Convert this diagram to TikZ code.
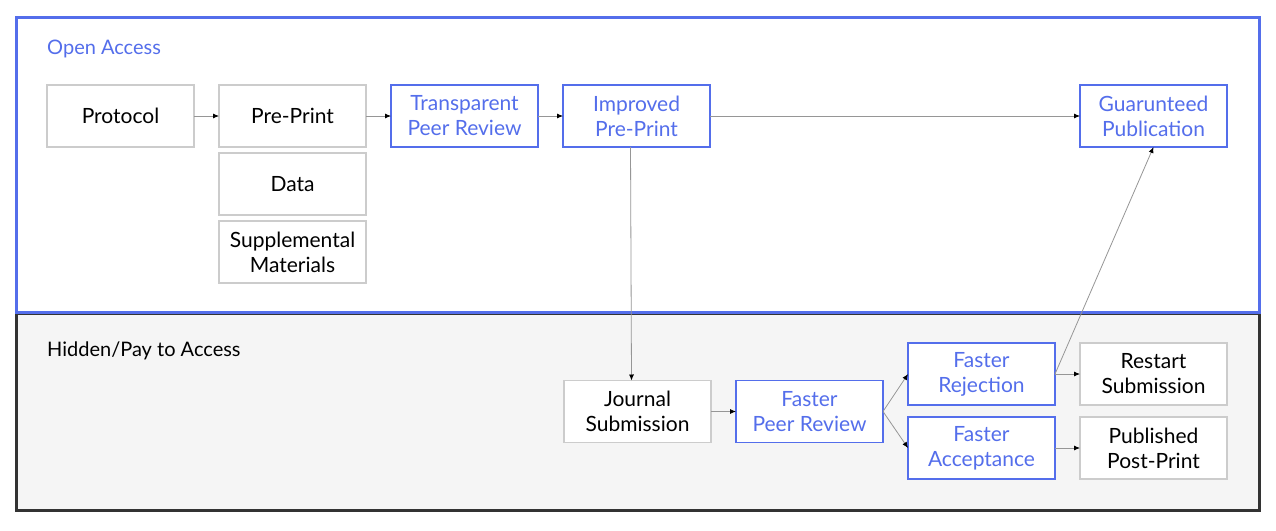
\documentclass[tikz,border=0pt]{standalone}
\usepackage{fontspec}
\setmainfont{Lato}
\usetikzlibrary{arrows.meta, positioning}
\definecolor{oablue}{RGB}{84,110,235}
\definecolor{boxgray}{RGB}{204,204,204}
\definecolor{hiddenfill}{RGB}{245,245,245}
\definecolor{hiddenline}{RGB}{51,51,51}
\definecolor{linkgray}{RGB}{150,150,150}

\begin{document}
\begin{tikzpicture}[
		x=1pt, y=-1pt,
		node distance=25pt,
		font=\fontsize{21}{25}\selectfont,
		every text node part/.style={align=center},
		stage/.style={draw=boxgray, line width=1.2pt, fill=white, minimum width=147pt, minimum height=62pt, inner sep=2pt, outer sep=0pt},
		open/.style={stage, draw=oablue, text=oablue, line width=1.6pt},
		area/.style={anchor=west, inner sep=0pt, font=\fontsize{20}{24}\selectfont},
		link/.style={draw=linkgray, line width=0.8pt, -{Latex[length=6pt, width=5pt, color=black]}}
	]
	\useasboundingbox (0,0) rectangle (1276,530);
	% the two areas
	\draw[hiddenline, fill=hiddenfill, line width=3pt] (16,313) rectangle (1259,510);
	\draw[oablue, fill=white, line width=3pt] (16,17) rectangle (1259,312);
	\node[area, text=oablue] (openlbl) at (47,49) {Open Access};
	\node[area] (hiddenlbl) at (47,351) {Hidden/Pay to Access};

	\node[stage] (protocol) at (120.5,116) {Protocol};
	\node[stage, right=of protocol] (preprint) {Pre-Print};
	\node[stage, below=6pt of preprint] (data) {Data};
	\node[stage, below=6pt of data] (supp) {Supplemental\\Materials};
	\node[open, right=of preprint] (transparent) {Transparent\\Peer Review};
	\node[open, right=of transparent] (improved) {Improved\\Pre-Print};
	\node[open] (guaranteed) at (1153.5,116) {Guarunteed\\Publication};

	\node[stage] (journal) at (637.5,411.5) {Journal\\Submission};
	\node[open, right=of journal] (fasterpr) {Faster\\Peer Review};
	\node[open] (rejection) at (981.5,374) {Faster\\Rejection};
	\node[open, below=12pt of rejection] (acceptance) {Faster\\Acceptance};
	\node[stage, right=of rejection] (restart) {Restart\\Submission};
	\node[stage, right=of acceptance] (postprint) {Published\\Post-Print};

	\draw[link] (protocol) -- (preprint);
	\draw[link] (preprint) -- (transparent);
	\draw[link] (transparent) -- (improved);
	\draw[link] (improved) -- (guaranteed);
	\draw[link] ([xshift=-6pt]improved.south) -- ([xshift=-6pt]journal.north);
	\draw[link] (journal) -- (fasterpr);
	\draw[link] (fasterpr.east) -- (rejection.west);
	\draw[link] (fasterpr.east) -- (acceptance.west);
	\draw[link] (rejection) -- (restart);
	\draw[link] (acceptance) -- (postprint);
	\draw[link] (rejection.east) -- (guaranteed.south);
\end{tikzpicture}
\end{document}
